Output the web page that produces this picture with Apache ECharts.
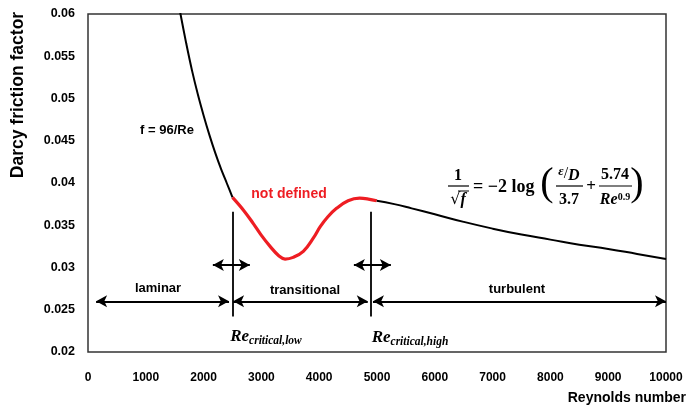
<!DOCTYPE html>
<html>
<head>
<meta charset="utf-8">
<script src="https://cdn.jsdelivr.net/npm/echarts@6/dist/echarts.min.js"></script>
<style>html,body{margin:0;padding:0;background:#fff;}#c{width:688px;height:408px;}</style>
</head>
<body>
<div id="c"></div>
<script>
// ---- data ----
const xTicks = [0,1000,2000,3000,4000,5000,6000,7000,8000,9000,10000];
const yTicks = [0.02,0.025,0.03,0.035,0.04,0.045,0.05,0.055,0.06];

const laminarRe = [1560, 1600, 1700, 1800, 1900, 2000, 2100, 2200, 2300, 2400, 2500];
const laminarF  = [0.0615, 0.0600, 0.0565, 0.0533, 0.0505, 0.0480, 0.0457, 0.0436, 0.0417, 0.0400, 0.0383];

const transRe = [2500, 2700, 2860, 3000, 3150, 3300, 3410, 3550, 3725, 3900, 4015, 4150, 4300, 4500, 4700, 4850, 4995];
const transF  = [0.0383, 0.0367, 0.0352, 0.0338, 0.0325, 0.0314, 0.0310, 0.0312, 0.0319, 0.0335, 0.0348, 0.0360, 0.0370, 0.0379, 0.0382, 0.0381, 0.0379];

const turbRe = [4995, 5300, 5600, 6000, 6500, 7000, 7500, 8000, 8500, 9000, 9500, 10000];
const turbF  = [0.0379, 0.0375, 0.0370, 0.0363, 0.0354, 0.0346, 0.0339, 0.0333, 0.0327, 0.0322, 0.0316, 0.0310];

// region boundaries / annotation arrows (Re, f)
const reLow = 2500, reHigh = 4900;
const vLineTop = 0.0366, vLineBottom = 0.0242;
const smallArrowF = 0.0303;
const bigArrowF = 0.0260;
const smallArrowsLow = [2160, 2800];
const smallArrowsHigh = [4600, 5240];
const laminarArrow = [140, 2440];
const transArrow = [2510, 4840];
const turbArrow = [4930, 10000];

const zip = (a,b) => a.map((v,i)=>[v,b[i]]);

const chart = echarts.init(document.getElementById('c'), null, {renderer:'canvas'});

const arrowStyle = {color:'#000', width:2, type:'solid'};
const twoHead = (r, f) => [{coord:[r[0], f]}, {coord:[r[1], f]}];

const bold = 'bold';
const sansFam = 'Liberation Sans';

const option = {
  animation:false,
  backgroundColor:'#fff',
  grid:{left:88, right:22, top:14, bottom:56, show:true, borderColor:'#333', borderWidth:1.5},
  xAxis:{type:'value', min:0, max:10000, interval:1000,
    axisLine:{show:false}, axisTick:{show:false}, splitLine:{show:false},
    axisLabel:{margin:20, color:'#000', fontWeight:bold, fontSize:12, fontFamily:sansFam,
      formatter:v=>String(v)}},
  yAxis:{type:'value', min:0.02, max:0.06, interval:0.005,
    axisLine:{show:false}, axisTick:{show:false}, splitLine:{show:false},
    axisLabel:{margin:13, color:'#000', fontWeight:bold, fontSize:12.5, fontFamily:sansFam,
      formatter:v=>String(+v.toFixed(3))}},
  series:[
    {type:'line', data:zip(laminarRe, laminarF), smooth:0.3, showSymbol:false, clip:true,
     lineStyle:{color:'#000', width:2}},
    {type:'line', data:zip(transRe, transF), smooth:0.4, showSymbol:false,
     lineStyle:{color:'#ee1d23', width:3.2}},
    {type:'line', data:zip(turbRe, turbF), smooth:0.5, showSymbol:false,
     lineStyle:{color:'#000', width:2},
     markLine:{silent:true, animation:false, symbol:['arrow','arrow'], symbolSize:[9,11],
       label:{show:false}, lineStyle:arrowStyle,
       data:[
         twoHead(laminarArrow, bigArrowF),
         twoHead(transArrow, bigArrowF),
         twoHead(turbArrow, bigArrowF),
         twoHead(smallArrowsLow, smallArrowF),
         twoHead(smallArrowsHigh, smallArrowF)
       ]}},
    {type:'line', data:[],
     markLine:{silent:true, animation:false, symbol:['none','none'], label:{show:false},
       lineStyle:{color:'#000', width:1.8, type:'solid'},
       data:[
         [{coord:[reLow, vLineTop]},{coord:[reLow, vLineBottom]}],
         [{coord:[reHigh, vLineTop]},{coord:[reHigh, vLineBottom]}]
       ]}}
  ],
  graphic:[
    {type:'text', x:18, y:95, rotation:Math.PI/2,
     style:{text:'Darcy friction factor', font:'bold 17.5px "Liberation Sans"', fill:'#000', align:'center', verticalAlign:'middle'}},
    {type:'text', x:686, y:398,
     style:{text:'Reynolds number', font:'bold 14px "Liberation Sans"', fill:'#000', align:'right', verticalAlign:'middle'}},
    {type:'text', x:167, y:130,
     style:{text:'f = 96/Re', font:'bold 13px "Liberation Sans"', fill:'#000', align:'center', verticalAlign:'middle'}},
    {type:'text', x:289, y:194,
     style:{text:'not defined', font:'bold 14px "Liberation Sans"', fill:'#ee1d23', align:'center', verticalAlign:'middle'}},
    {type:'text', x:158, y:288,
     style:{text:'laminar', font:'bold 13px "Liberation Sans"', fill:'#000', align:'center', verticalAlign:'middle'}},
    {type:'text', x:305, y:290,
     style:{text:'transitional', font:'bold 13px "Liberation Sans"', fill:'#000', align:'center', verticalAlign:'middle'}},
    {type:'text', x:517, y:289,
     style:{text:'turbulent', font:'bold 13px "Liberation Sans"', fill:'#000', align:'center', verticalAlign:'middle'}},
    {type:'text', x:266, y:337,
     style:{text:'{a|Re}{b|critical,low}', align:'center', verticalAlign:'middle',
       rich:{a:{font:'bold italic 17px "Liberation Serif"', fill:'#000'},
             b:{font:'bold italic 11.5px "Liberation Serif"', fill:'#000', padding:[8,0,0,0]}}}},
    {type:'text', x:410, y:338,
     style:{text:'{a|Re}{b|critical,high}', align:'center', verticalAlign:'middle',
       rich:{a:{font:'bold italic 17px "Liberation Serif"', fill:'#000'},
             b:{font:'bold italic 11.5px "Liberation Serif"', fill:'#000', padding:[8,0,0,0]}}}},
    // formula
    {type:'group', children:[
      {type:'text', x:458, y:176, style:{text:'1', font:'bold 16px "Liberation Serif"', fill:'#000', align:'center', verticalAlign:'middle'}},
      {type:'line', shape:{x1:448, y1:186, x2:469, y2:186}, style:{stroke:'#000', lineWidth:1.2}},
      {type:'text', x:458, y:200, style:{text:'{r|√}{f|f}', align:'center', verticalAlign:'middle',
        rich:{r:{font:'16px "DejaVu Serif"', fill:'#000'}, f:{font:'bold italic 16px "Liberation Serif"', fill:'#000'}}}},
      {type:'line', shape:{x1:458, y1:191, x2:469, y2:191}, style:{stroke:'#000', lineWidth:1}},
      {type:'text', x:473, y:187, style:{text:'= −2 log', font:'bold 18px "Liberation Serif"', fill:'#000', align:'left', verticalAlign:'middle'}},
      {type:'text', x:547, y:184, style:{text:'(', font:'40px "Liberation Serif"', fill:'#000', align:'center', verticalAlign:'middle'}},
      {type:'text', x:569, y:174, style:{text:'{e|ε}{s|/}{d|D}', align:'center', verticalAlign:'middle',
        rich:{e:{font:'bold italic 13px "Liberation Serif"', fill:'#000', padding:[0,0,5,0]},
              s:{font:'16px "Liberation Serif"', fill:'#000'},
              d:{font:'bold italic 16px "Liberation Serif"', fill:'#000', padding:[4,0,0,0]}}}},
      {type:'line', shape:{x1:556, y1:186, x2:583, y2:186}, style:{stroke:'#000', lineWidth:1.2}},
      {type:'text', x:569, y:200, style:{text:'3.7', font:'bold 16px "Liberation Serif"', fill:'#000', align:'center', verticalAlign:'middle'}},
      {type:'text', x:591, y:187, style:{text:'+', font:'bold 17px "Liberation Serif"', fill:'#000', align:'center', verticalAlign:'middle'}},
      {type:'text', x:615, y:175, style:{text:'5.74', font:'bold 16px "Liberation Serif"', fill:'#000', align:'center', verticalAlign:'middle'}},
      {type:'line', shape:{x1:599, y1:186, x2:632, y2:186}, style:{stroke:'#000', lineWidth:1.2}},
      {type:'text', x:615, y:200, style:{text:'{a|Re}{b|0.9}', align:'center', verticalAlign:'middle',
        rich:{a:{font:'bold italic 16px "Liberation Serif"', fill:'#000'},
              b:{font:'bold 10px "Liberation Serif"', fill:'#000', padding:[0,0,6,0]}}}},
      {type:'text', x:637, y:184, style:{text:')', font:'40px "Liberation Serif"', fill:'#000', align:'center', verticalAlign:'middle'}}
    ]}
  ]
};
chart.setOption(option);
</script>
</body>
</html>
